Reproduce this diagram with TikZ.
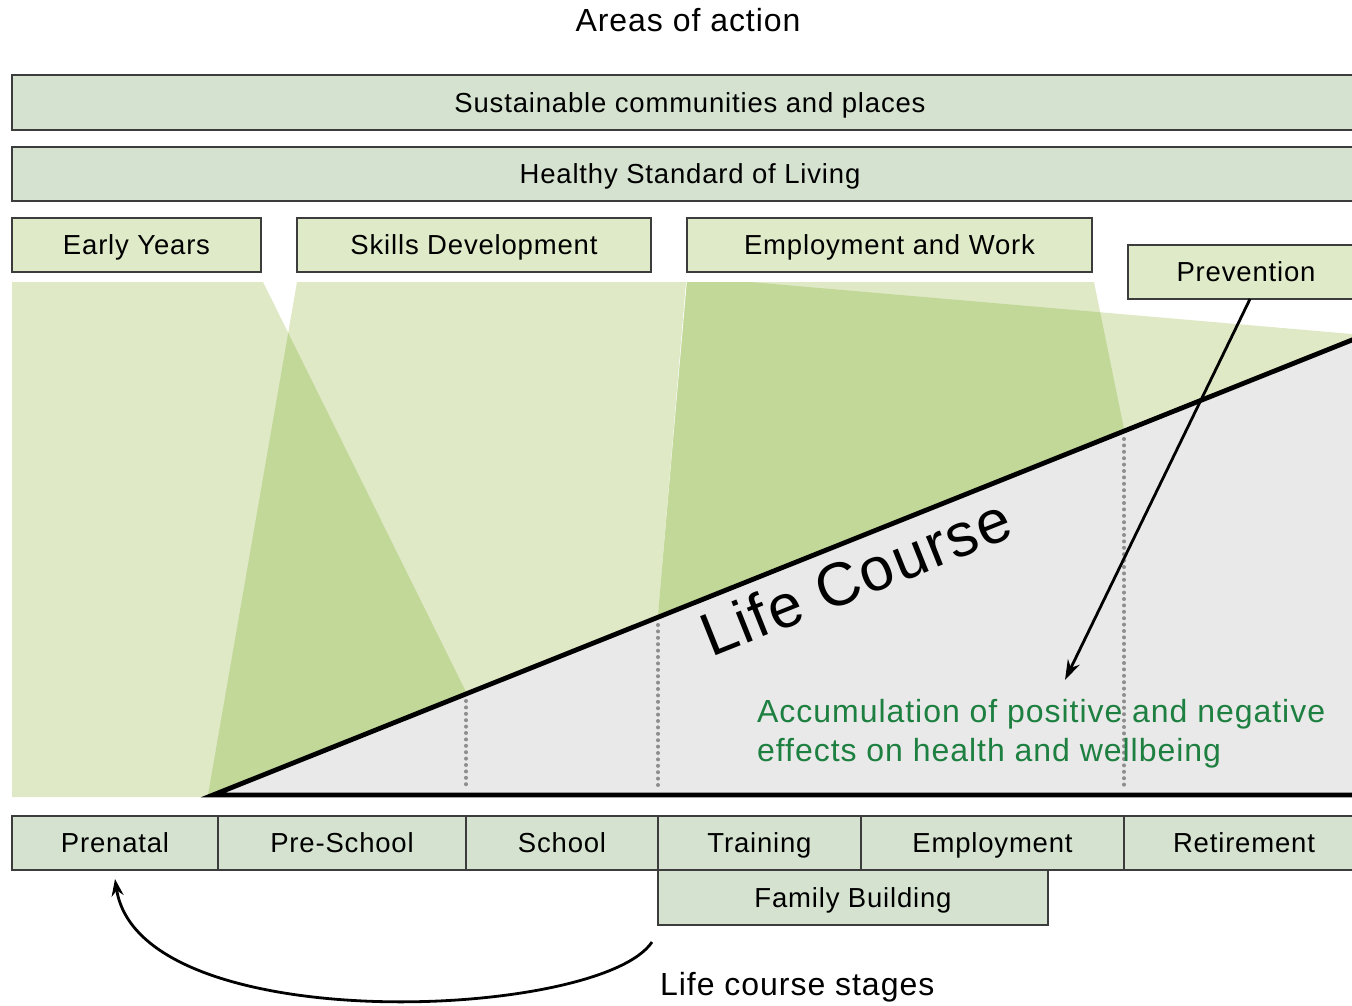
\documentclass[tikz,border=0pt]{standalone}
\usepackage{fontspec}
\setmainfont{Liberation Sans}[LetterSpace=3]
\usetikzlibrary{arrows.meta}
\definecolor{bandfill}{HTML}{D4E2CF}
\definecolor{boxfill}{HTML}{DFEAC8}
\definecolor{beamlight}{HTML}{DFE9C6}
\definecolor{beamdark}{HTML}{C2D898}
\definecolor{lifegray}{HTML}{E9E9E9}
\definecolor{edge}{HTML}{3C3C3C}
\definecolor{accgreen}{HTML}{1D8040}
\definecolor{dotgray}{HTML}{8E8E8E}
\begin{document}
\begin{tikzpicture}[x=1pt,y=-1pt,
  lbl/.style={font=\fontsize{27.5pt}{33pt}\selectfont, text height=19.7pt, text depth=0pt},
  cell/.style={lbl, rectangle, draw=edge, line width=1.4pt, inner sep=0pt, outer sep=0pt},
  band/.style={cell, fill=bandfill},
  area/.style={cell, fill=boxfill},
  beam/.style={fill=beamlight},
  overlap/.style={fill=beamdark},
  dotline/.style={draw=dotgray, line width=4pt, line cap=round, dash pattern=on 0pt off 6.4pt},
  bigtext/.style={font=\fontsize{32pt}{39pt}\selectfont}
]
\clip (0,0) rectangle (1352,1005);

% ---- title ----
\node[bigtext, anchor=base] (title) at (688,31) {Areas of action};

% ---- areas of action ----
\node[band, minimum width=1356pt, minimum height=55pt] (scp) at (690,102.5) {Sustainable communities and places};
\node[band, minimum width=1356pt, minimum height=54pt] (hsl) at (690,174) {Healthy Standard of Living};
\node[area, minimum width=249pt, minimum height=54pt] (early) at (136.5,245) {Early Years};
\node[area, minimum width=354pt, minimum height=54pt] (skills) at (474,245) {Skills Development};
\node[area, minimum width=405pt, minimum height=54pt] (work) at (889.5,245) {Employment and Work};
\node[area, minimum width=236pt, minimum height=54pt] (prev) at (1246,272) {Prevention};

% ---- key points of the life course ----
\coordinate (O) at (208,795);
\coordinate (Oline) at (213,795);
\coordinate (L1) at (466,691.9);
\coordinate (L2) at (658,615.2);
\coordinate (L3) at (1124,429.1);
\coordinate (Lend) at (1370,332.8);
\coordinate (Bend) at (1370,795);

% ---- beams of the areas of action ----
\fill[beam] (12,282) -- (263,282) -- (L1) -- (O) -- (208,797) -- (12,797) -- cycle;
\fill[beam] (297,282) -- (686,282) -- (L2) -- (O) -- cycle;
\fill[beam] (687,282) -- (1094,282) -- (L3) -- (L2) -- cycle;
\fill[beam] (687,282) -- (750,282) -- (1352,334) -- (1360,334) -- (1360,337) -- (L2) -- cycle;
% overlapping parts
\fill[overlap] (intersection of 263,282--L1 and 297,282--O) -- (L1) -- (O) -- cycle;
\fill[overlap] (687,282) -- (750,282) -- (intersection of 1094,282--L3 and 750,282--1352,334) -- (L3) -- (L2) -- cycle;

% ---- accumulated effects ----
\fill[lifegray] (O) -- (Lend) -- (Bend) -- cycle;
\draw[dotline] (466,701) -- (466,789);
\draw[dotline] (658,625) -- (658,789);
\draw[dotline] (1124,439) -- (1124,789);
\draw[line width=4.8pt, line join=miter] (Lend) -- (Oline) -- (Bend);

\node[font=\fontsize{61pt}{66pt}\selectfont, anchor=base, rotate=21.77, inner sep=0pt] (life) at (864,597) {Life Course};

\node[bigtext, text=accgreen, anchor=north west, align=left, inner sep=0pt] (acctext) at (757,699)
  {Accumulation of positive and negative\\effects on health and wellbeing};

% ---- prevention arrow ----
\coordinate (acc) at (1065,680);
\draw[line width=2.8pt, -{Stealth[length=20pt,width=13pt]}] ([xshift=4pt]prev.south) -- (acc);

% ---- life course stages ----
\node[band, minimum width=206pt, minimum height=54pt] (prenatal) at (115,843) {Prenatal};
\node[band, minimum width=248pt, minimum height=54pt] (preschool) at (342,843) {Pre-School};
\node[band, minimum width=192pt, minimum height=54pt] (school) at (562,843) {School};
\node[band, minimum width=203pt, minimum height=54pt] (training) at (759.5,843) {Training};
\node[band, minimum width=263pt, minimum height=54pt] (employ) at (992.5,843) {Employment};
\node[band, minimum width=240pt, minimum height=54pt] (retire) at (1244,843) {Retirement};
\node[band, minimum width=390pt, minimum height=55pt] (family) at (853,897.5) {Family Building};

\node[bigtext, anchor=base west, inner sep=0pt] (stages) at (660,995) {Life course stages};

% ---- cycle back to the start ----
\coordinate (cstart) at (652,942);
\draw[line width=2.8pt, -{Stealth[length=17pt,width=12pt]}] (cstart) .. controls (600,1020) and (140,1040) .. ([yshift=-9pt]prenatal.south);
\end{tikzpicture}
\end{document}
